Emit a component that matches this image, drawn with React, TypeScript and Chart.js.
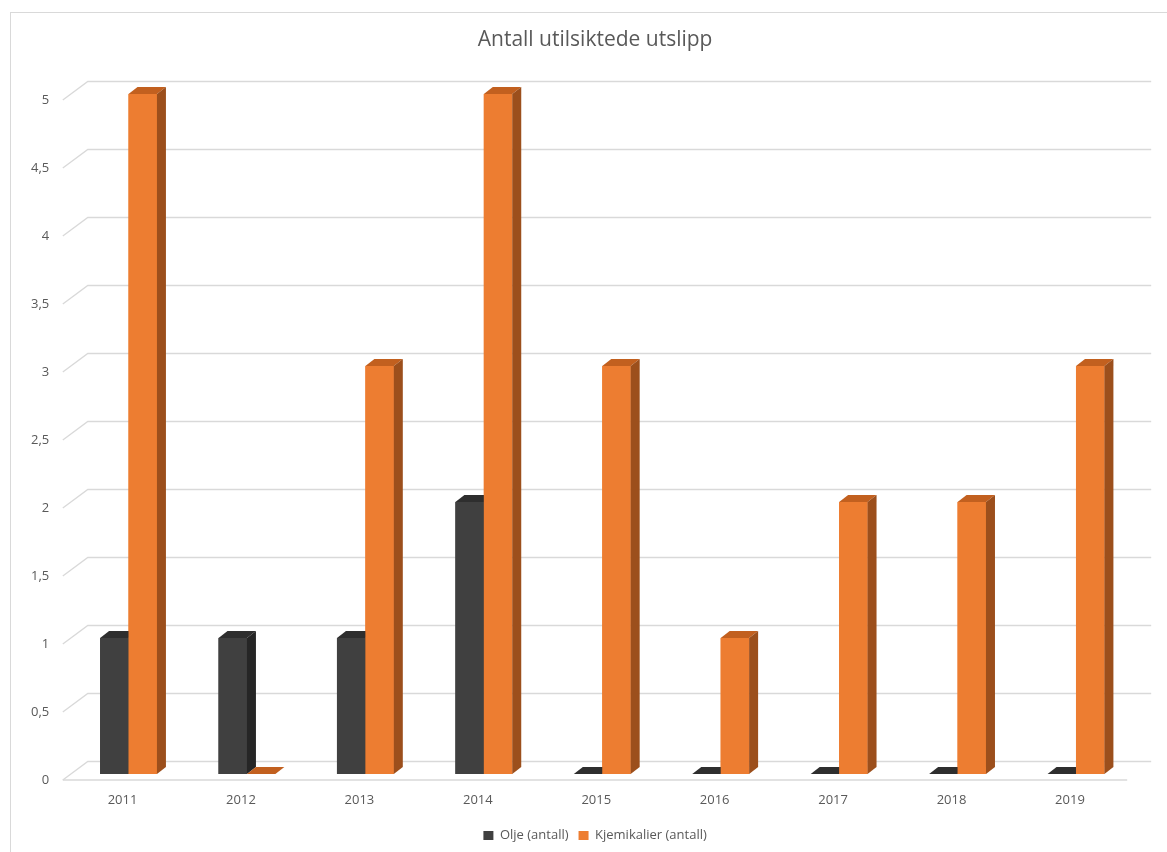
import React, { useEffect, useRef } from 'react';
import { Chart, registerables } from 'chart.js';

Chart.register(...registerables);

const years = ['2011', '2012', '2013', '2014', '2015', '2016', '2017', '2018', '2019'];
const oilCounts = [1, 1, 1, 2, 0, 0, 0, 0, 0];
const chemicalCounts = [5, 0, 3, 5, 3, 1, 2, 2, 3];
const seriesNames = ['Olje (antall)', 'Kjemikalier (antall)'];
const yTickLabels = ['0', '0,5', '1', '1,5', '2', '2,5', '3', '3,5', '4', '4,5', '5'];
const titleText = 'Antall utilsiktede utslipp';

const FONT = "'Open Sans', 'Noto Sans', sans-serif";
const TEXT = '#595959';
const GRID = '#d9d9d9';
const DX = 9;
const DY = -7;

const faces = [
  { front: '#404040', top: '#2e2e2e', side: '#262626' },
  { front: '#ED7D31', top: '#C2601F', side: '#9C4F1C' },
];

const framePlugin = {
  id: 'frame',
  beforeDraw(chart: any) {
    const ctx = chart.ctx;
    ctx.save();
    ctx.fillStyle = '#ffffff';
    ctx.fillRect(0, 0, chart.width, chart.height);
    ctx.strokeStyle = GRID;
    ctx.lineWidth = 1;
    ctx.strokeRect(10.5, 12.5, 1300, 1000);
    ctx.restore();
  },
};

const gridPlugin = {
  id: 'grid3d',
  beforeDatasetsDraw(chart: any) {
    const ctx = chart.ctx;
    const ys = chart.scales.y;
    const { left, right } = chart.chartArea;
    ctx.save();
    ctx.strokeStyle = GRID;
    ctx.lineWidth = 1.3;
    ys.ticks.forEach((t: any) => {
      const yb = ys.getPixelForValue(t.value);
      ctx.beginPath();
      ctx.moveTo(left - 6.5, yb + 6);
      ctx.lineTo(left + 18.5, yb - 12.5);
      ctx.lineTo(right + 16, yb - 12.5);
      ctx.stroke();
    });
    const y0 = ys.getPixelForValue(0);
    ctx.beginPath();
    ctx.moveTo(left - 6.5, y0 + 6);
    ctx.lineTo(right - 8, y0 + 6);
    ctx.stroke();
    // y tick labels on the front plane
    ctx.fillStyle = TEXT;
    ctx.font = `13px ${FONT}`;
    ctx.textAlign = 'right';
    ctx.textBaseline = 'middle';
    ys.ticks.forEach((t: any, i: number) => {
      const yb = ys.getPixelForValue(t.value);
      ctx.fillText(yTickLabels[i], left - 20, yb + 6);
    });
    ctx.restore();
  },
};

function poly(ctx: any, pts: number[][], color: string) {
  ctx.beginPath();
  ctx.moveTo(pts[0][0], pts[0][1]);
  for (let i = 1; i < pts.length; i++) ctx.lineTo(pts[i][0], pts[i][1]);
  ctx.closePath();
  ctx.fillStyle = color;
  ctx.fill();
}

const barsPlugin = {
  id: 'bars3d',
  afterDatasetsDraw(chart: any) {
    const ctx = chart.ctx;
    const n = chart.data.labels.length;
    const metas = chart.data.datasets.map((_: any, i: number) => chart.getDatasetMeta(i));
    ctx.save();
    for (let j = 0; j < n; j++) {
      for (let d = 0; d < metas.length; d++) {
        const el = metas[d].data[j];
        if (!el) continue;
        const { x, y, base, width } = el.getProps(['x', 'y', 'base', 'width'], true);
        const l = x - width / 2;
        const r = x + width / 2;
        const c = faces[d];
        if (Math.abs(base - y) > 0.5) {
          ctx.fillStyle = c.front;
          ctx.fillRect(l, y, width, base - y);
        }
        poly(ctx, [[l, y], [l + DX, y + DY], [r + DX, y + DY], [r, y]], c.top);
        poly(ctx, [[r, y], [r + DX, y + DY], [r + DX, base + DY], [r, base]], c.side);
      }
    }
    ctx.restore();
  },
};

export default function App() {
  const ref = useRef<HTMLCanvasElement | null>(null);

  useEffect(() => {
    if (!ref.current) return;
    const chart = new Chart(ref.current, {
      type: 'bar',
      data: {
        labels: years,
        datasets: [
          { label: seriesNames[0], data: oilCounts, backgroundColor: faces[0].front, borderWidth: 0 },
          { label: seriesNames[1], data: chemicalCounts, backgroundColor: faces[1].front, borderWidth: 0 },
        ],
      },
      options: {
        responsive: false,
        animation: false,
        events: [],
        datasets: { bar: { categoryPercentage: 0.48, barPercentage: 1 } },
        layout: { padding: { left: 55, right: 31.8, top: 0, bottom: 0 } },
        plugins: {
          tooltip: { enabled: false },
          title: {
            display: true,
            text: titleText,
            color: TEXT,
            font: { family: FONT, size: 21, weight: 'normal', lineHeight: 1.2 },
            padding: { top: 27.5, bottom: 41.3 },
          },
          legend: {
            display: true,
            position: 'bottom',
            labels: {
              color: TEXT,
              font: { family: FONT, size: 13 },
              boxWidth: 10,
              boxHeight: 9,
              padding: 10,
            },
          },
        },
        scales: {
          x: {
            grid: { display: false, drawTicks: false },
            border: { display: false },
            ticks: { color: TEXT, font: { family: FONT, size: 13 }, padding: 18, labelOffset: -6 },
            afterFit: (s: any) => { s.height = 45; },
          },
          y: {
            min: 0,
            max: 5,
            grid: { display: false, drawTicks: false },
            border: { display: false },
            ticks: { stepSize: 0.5, display: false },
            afterFit: (s: any) => { s.width = 14.3; },
          },
        },
      },
      plugins: [framePlugin, gridPlugin, barsPlugin],
    });
    return () => chart.destroy();
  }, []);

  return (
    <div style={{ position: 'fixed', left: 0, top: 0, width: 1167, height: 852, background: '#fff' }}>
      <canvas ref={ref} width={1167} height={852} style={{ display: 'block' }} />
    </div>
  );
}
